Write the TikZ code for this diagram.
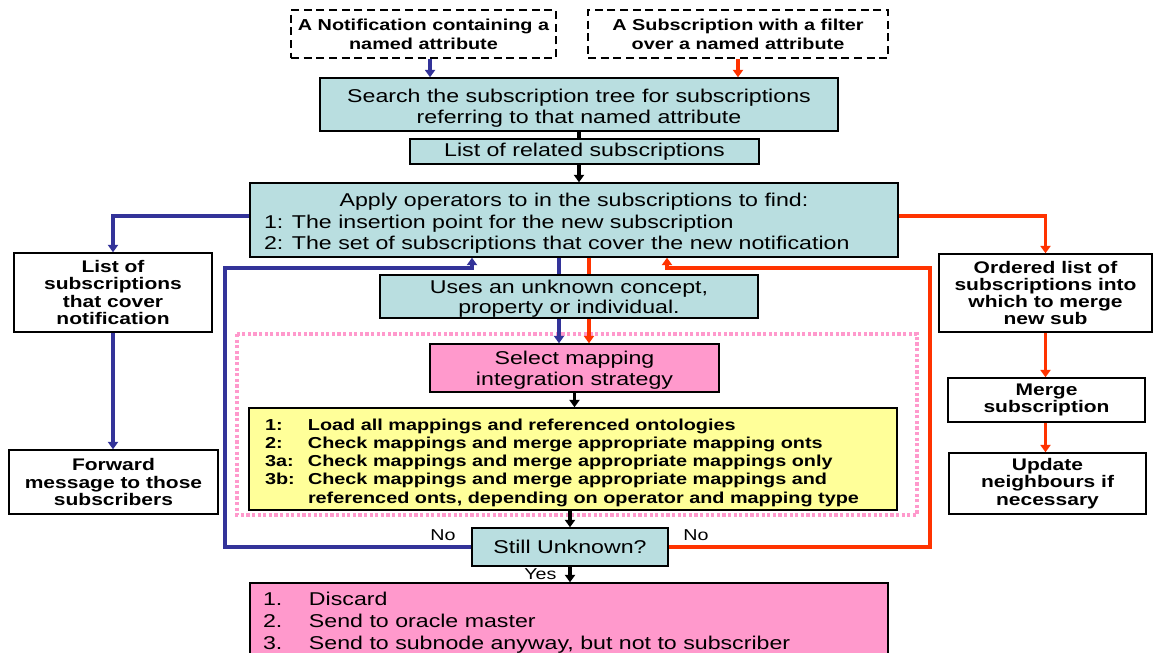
\documentclass[tikz,border=0pt]{standalone}
\usepackage{fontspec}
\setmainfont{Liberation Sans}[FakeStretch=1.25]
\usetikzlibrary{arrows.meta}

\definecolor{boxteal}{RGB}{185,222,224}
\definecolor{boxpink}{RGB}{255,153,204}
\definecolor{boxyellow}{RGB}{255,255,153}
\definecolor{lineblue}{RGB}{51,51,153}
\definecolor{lineorange}{RGB}{255,51,0}

\newcommand{\regfont}{\fontsize{13.9}{15.5}\selectfont}
\newcommand{\topfont}{\fontsize{11.9}{14.25}\selectfont\bfseries}
\newcommand{\sidefont}{\fontsize{12.6}{12.9}\selectfont\bfseries}
\newcommand{\listfont}{\fontsize{11.9}{13.7}\selectfont\bfseries}
\newcommand{\notefont}{\fontsize{11.8}{13}\selectfont}
% centred lines, sunk a little
\newcommand{\sunk}[2][2.5pt]{\raisebox{-#1}[\height][\depth]{\begin{tabular}{@{}c@{}}#2\end{tabular}}}

\tikzset{
  box/.style={draw, line width=1.1pt, inner sep=0pt, align=center},
  dashbox/.style={box, dash pattern=on 6pt off 3.5pt, font=\topfont, minimum height=36pt},
  tealbox/.style={box, fill=boxteal, font=\regfont},
  pinkbox/.style={box, fill=boxpink, font=\regfont},
  sidebox/.style={box, fill=white, font=\sidefont},
  yellowbox/.style={box, fill=boxyellow, font=\listfont},
  blueline/.style={draw=lineblue, line width=2.5pt},
  orangeline/.style={draw=lineorange, line width=2.5pt},
  blackline/.style={draw=black, line width=2.5pt},
  pinkdots/.style={draw=boxpink, line width=3pt, dash pattern=on 2.4pt off 1.8pt},
  answer/.style={font=\notefont, inner sep=0pt}
}

\begin{document}
\begin{tikzpicture}[x=0.75pt, y=-0.75pt, >={Triangle[width=7.5pt,length=5.5pt]}]
\useasboundingbox (0,0) rectangle (1153,653);
\clip (0,0) rectangle (1153,653);

% Inputs
\node[dashbox, minimum width=198.75pt] (notif) at (423.5,34) {A Notification containing a\\named attribute};
\node[dashbox, minimum width=225pt] (subf) at (738,34) {A Subscription with a filter\\over a named attribute};

% Search
\node[tealbox, minimum width=388.5pt, minimum height=39.75pt] (search) at (579,104.5) {\sunk[3.4pt]{Search the subscription tree for subscriptions\\referring to that named attribute}};
\node[tealbox, minimum width=261.75pt, minimum height=18.75pt] (related) at (584.5,151.5) {List of related subscriptions};
\node[tealbox, minimum width=486pt, minimum height=55.5pt] (apply) at (574,220) {\raisebox{-2.6pt}[\height][\depth]{\parbox{465pt}{\makebox[465pt]{Apply operators to in the subscriptions to find:}\\[0.6pt]1: The insertion point for the new subscription\\[0.6pt]2: The set of subscriptions that cover the new notification}}};

% Notification side
\node[sidebox, minimum width=148.5pt, minimum height=59.25pt] (cover) at (113,292.5) {List of\\subscriptions\\that cover\\notification};
\node[sidebox, minimum width=156.75pt, minimum height=48pt] (forward) at (113.5,482) {Forward\\message to those\\subscribers};

% Subscription side
\node[sidebox, minimum width=159.75pt, minimum height=58.5pt] (ordered) at (1045.5,293) {Ordered list of\\subscriptions into\\which to merge\\new sub};
\node[sidebox, minimum width=147.75pt, minimum height=33pt] (merge) at (1046.5,400) {Merge\\subscription};
\node[sidebox, minimum width=147.75pt, minimum height=45.75pt] (update) at (1047.5,483.5) {Update\\neighbours if\\necessary};

% Unknown concepts
\node[tealbox, minimum width=283.5pt, minimum height=32.25pt] (unknown) at (569,296.5) {\sunk[2.2pt]{Uses an unknown concept,\\property or individual.}};
\draw[pinkdots] (237,334) rectangle (917,515);
\node[pinkbox, minimum width=216.75pt, minimum height=36pt] (select) at (574.5,368) {\sunk[2pt]{Select mapping\\integration strategy}};
\node[yellowbox, minimum width=486pt, minimum height=76.5pt] (strategy) at (573,459) {%
\raisebox{-3pt}[\height][\depth]{\parbox{462pt}{\begin{tabular}{@{}p{32.25pt}@{}l@{}}
1: & Load all mappings and referenced ontologies\\
2: & Check mappings and merge appropriate mapping onts\\
3a: & Check mappings and merge appropriate mappings only\\
3b: & Check mappings and merge appropriate mappings and\\
 & referenced onts, depending on operator and mapping type
\end{tabular}}}};
\node[tealbox, minimum width=147pt, minimum height=28.5pt] (still) at (570,547) {Still Unknown?};
\node[pinkbox, minimum width=478.5pt, minimum height=56.25pt] (outcome) at (569,620.5) {%
\raisebox{-2.3pt}[\height][\depth]{\parbox{459pt}{\begin{tabular}{@{}p{34.5pt}@{}l@{}}
1. & Discard\\[1pt]
2. & Send to oracle master\\[1pt]
3. & Send to subnode anyway, but not to subscriber
\end{tabular}}}};

% Connectors
\draw[blueline, ->] ([xshift=4.9pt]notif.south) -- ([xshift=4.9pt]notif.south |- search.north);
\draw[orangeline, ->] (subf.south) -- (subf.south |- search.north);
\draw[blackline] (search.south) -- (search.south |- related.north);
\draw[blackline, ->] (search.south |- related.south) -- (search.south |- apply.north);

\draw[blueline, ->] ([yshift=3pt]apply.west) -| (cover.north);
\draw[blueline, ->] (cover.south) -- (cover.south |- forward.north);
\draw[orangeline, ->] ([yshift=3pt]apply.east) -| (ordered.north);
\draw[orangeline, ->] (ordered.south) -- (ordered.south |- merge.north);
\draw[orangeline, ->] (ordered.south |- merge.south) -- (ordered.south |- update.north);

\draw[blueline] ([xshift=-11.25pt]apply.south) -- ([xshift=-11.25pt]apply.south |- unknown.north);
\draw[blueline, ->] ([xshift=-11.25pt]apply.south |- unknown.south) -- ([xshift=-11.25pt]apply.south |- select.north);
\draw[orangeline] ([xshift=11.25pt]apply.south) -- ([xshift=11.25pt]apply.south |- unknown.north);
\draw[orangeline, ->] ([xshift=11.25pt]apply.south |- unknown.south) -- ([xshift=11.25pt]apply.south |- select.north);

\draw[blackline, ->] (select.south) -- (select.south |- strategy.north);
\draw[blackline, ->] (strategy.south -| still.north) -- (still.north);
\draw[blackline, ->] (still.south) -- (still.south |- outcome.north)
  node[answer, midway, anchor=east, xshift=-9pt] {Yes};

% Loops back
\draw[blueline, ->] (still.west) node[answer, anchor=south east, xshift=-10.5pt, yshift=3.5pt] {No}
  -| (225,268) -| ([xshift=-76.5pt]apply.south);
\draw[orangeline, ->] (still.east) node[answer, anchor=south west, xshift=9.75pt, yshift=3.5pt] {No}
  -| (930,268) -| ([xshift=69.75pt]apply.south);
\end{tikzpicture}
\end{document}
